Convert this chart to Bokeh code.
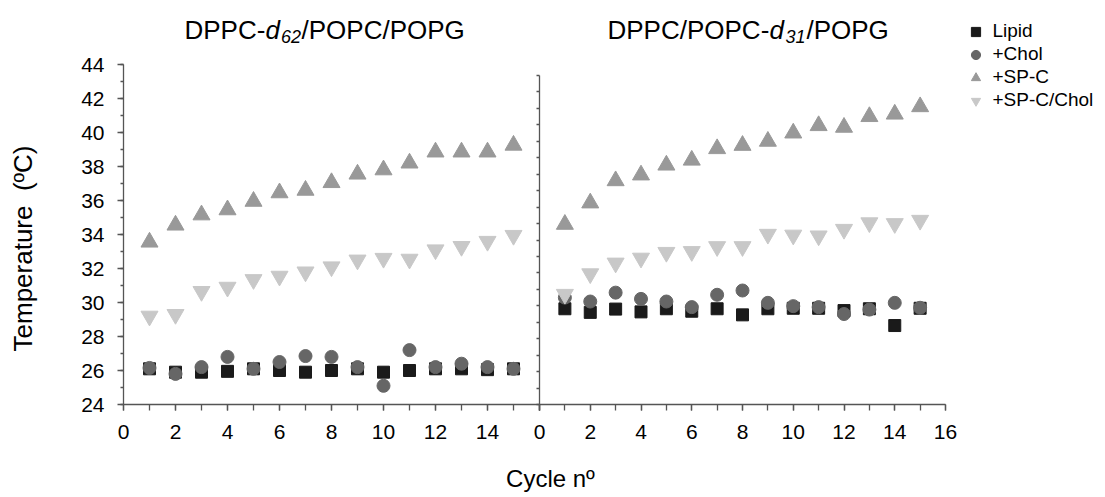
from bokeh.plotting import figure
from bokeh.models import (Range1d, LinearAxis, SingleIntervalTicker, FixedTicker, Label,
                          Legend, LegendItem, CustomJSTickFormatter)
from bokeh.embed import file_html
from bokeh.resources import INLINE

FONT = "Liberation Sans"

cycles = list(range(1, 16))

# Left panel: DPPC-d62/POPC/POPG
left_lipid = [26.1, 25.9, 25.9, 25.95, 26.1, 26.0, 25.9, 26.0, 26.1, 25.9, 26.0, 26.1, 26.1, 26.05, 26.1]
left_chol = [26.15, 25.8, 26.2, 26.8, 26.1, 26.5, 26.85, 26.8, 26.2, 25.1, 27.2, 26.2, 26.4, 26.2, 26.1]
left_spc = [33.55, 34.55, 35.15, 35.45, 35.95, 36.45, 36.6, 37.05, 37.55, 37.8, 38.2, 38.85, 38.85, 38.85, 39.25]
left_spc_chol = [29.2, 29.3, 30.65, 30.9, 31.35, 31.55, 31.8, 32.1, 32.5, 32.6, 32.55, 33.1, 33.3, 33.6, 33.95]

# Right panel: DPPC/POPC-d31/POPG
right_lipid = [29.82, 29.6, 29.8, 29.63, 29.82, 29.67, 29.82, 29.45, 29.82, 29.85, 29.85, 29.71, 29.82, 28.8, 29.85]
right_chol = [30.5, 30.26, 30.8, 30.42, 30.26, 29.92, 30.67, 30.93, 30.18, 29.98, 29.92, 29.5, 29.77, 30.18, 29.88]
right_spc = [34.95, 36.25, 37.6, 37.95, 38.55, 38.85, 39.55, 39.75, 40.0, 40.5, 40.95, 40.85, 41.5, 41.65, 42.1]
right_spc_chol = [30.7, 31.95, 32.6, 32.9, 33.25, 33.3, 33.6, 33.6, 34.35, 34.3, 34.25, 34.65, 35.05, 35.0, 35.2]

series_labels = ["Lipid", "+Chol", "+SP-C", "+SP-C/Chol"]
series_markers = ["square", "circle", "triangle", "inverted_triangle"]
series_colors = ["#1a1a1a", "#666666", "#999999", "#c8c8c8"]
series_sizes = [12, 13, 17, 17]

AXC = "#555555"
W, H = 1105, 497

# The frame fills the whole canvas; axes are pinned with fixed_location.
# Left panel scale: x 0 -> px 123, 26 px/unit ; y 24 -> px 404, 17 px/unit
# Right panel scale: x 0 -> px 539, 25.375 px/unit ; y 24 -> px 404, 16.45 px/unit
p = figure(width=W, height=H,
           x_range=Range1d(-123 / 26, (W - 123) / 26),
           y_range=Range1d(24 - (H - 404) / 17, 24 + 404 / 17),
           output_backend="svg", toolbar_location=None,
           x_axis_location=None, y_axis_location=None,
           min_border_left=0, min_border_right=0, min_border_top=0, min_border_bottom=0)
p.extra_x_ranges = {"xr": Range1d(-539 / 25.375, (W - 539) / 25.375)}
p.extra_y_ranges = {"yr": Range1d(24 - (H - 404) / 16.45, 24 + 404 / 16.45)}
p.grid.visible = False
p.outline_line_color = None
p.background_fill_color = "white"
p.border_fill_color = "white"


def style_axis(ax):
    ax.axis_line_color = AXC
    ax.axis_line_width = 1.3
    ax.major_tick_line_color = AXC
    ax.minor_tick_line_color = AXC
    ax.major_tick_line_width = 1.3
    ax.minor_tick_line_width = 1.3
    ax.major_label_text_font = FONT
    ax.major_label_text_font_size = "21px"
    ax.major_label_text_color = "#000000"
    ax.axis_label_text_font = FONT
    ax.axis_label_text_font_style = "normal"
    ax.axis_label_text_color = "#000000"


# left y axis (left panel)
yax = LinearAxis(fixed_location=0, bounds=(24, 44),
                 ticker=SingleIntervalTicker(interval=2, num_minor_ticks=2))
style_axis(yax)
yax.major_tick_out = 6
yax.major_tick_in = 0
yax.minor_tick_out = 3
yax.minor_tick_in = 0
yax.major_label_standoff = 13
p.add_layout(yax, "left")

# y axis title
ylab = LinearAxis(fixed_location=0, bounds=(22.36, 44), ticker=FixedTicker(ticks=[]),
                  axis_label="Temperature \u00a0(ºC)", axis_label_standoff=86)
style_axis(ylab)
ylab.axis_line_color = None
ylab.major_tick_out = 0
ylab.minor_tick_out = 0
ylab.axis_label_text_font_size = "26px"
p.add_layout(ylab, "left")

# divider: y axis of the right panel
div = LinearAxis(y_range_name="yr", fixed_location=16, bounds=(24, 44),
                 ticker=SingleIntervalTicker(interval=1, num_minor_ticks=0),
                 formatter=CustomJSTickFormatter(code="return ''"))
style_axis(div)
div.major_tick_out = 3
div.major_tick_in = 0
div.minor_tick_out = 0
div.minor_tick_in = 0
p.add_layout(div, "left")

# bottom axis of left panel
xl = LinearAxis(fixed_location=24, bounds=(0, 16),
                ticker=SingleIntervalTicker(interval=2, num_minor_ticks=2),
                major_label_overrides={16: ""})
style_axis(xl)
xl.major_tick_out = 6
xl.minor_tick_out = 6
xl.major_tick_in = 0
xl.minor_tick_in = 0
xl.major_label_standoff = 14
p.add_layout(xl, "below")

# bottom axis of right panel
xr = LinearAxis(x_range_name="xr", fixed_location=24, bounds=(0, 16),
                ticker=SingleIntervalTicker(interval=2, num_minor_ticks=2))
style_axis(xr)
xr.major_tick_out = 6
xr.minor_tick_out = 6
xr.major_tick_in = 0
xr.minor_tick_in = 0
xr.major_label_standoff = 14
p.add_layout(xr, "below")

# shared x axis title
xlab = LinearAxis(fixed_location=24, ticker=FixedTicker(ticks=[]), bounds=(1.3, 31.55),
                  axis_label="Cycle nº", axis_label_standoff=60)
style_axis(xlab)
xlab.axis_line_color = None
xlab.major_tick_out = 0
xlab.minor_tick_out = 0
xlab.axis_label_text_font_size = "24px"
p.add_layout(xlab, "below")

# glyphs
left_vals = [left_lipid, left_chol, left_spc, left_spc_chol]
right_vals = [right_lipid, right_chol, right_spc, right_spc_chol]
left_renderers = []
for vals, m, c, s in zip(left_vals, series_markers, series_colors, series_sizes):
    r = p.scatter(cycles, vals, marker=m, size=s, fill_color=c, line_color=c)
    left_renderers.append(r)
for vals, m, c, s in zip(right_vals, series_markers, series_colors, series_sizes):
    p.scatter(cycles, vals, marker=m, size=s, fill_color=c, line_color=c,
              x_range_name="xr", y_range_name="yr")

legend = Legend(items=[LegendItem(label=l, renderers=[r]) for l, r in zip(series_labels, left_renderers)],
                location=(963.5, 385.5), orientation="vertical",
                glyph_width=23, glyph_height=23, label_height=23, spacing=0,
                label_standoff=6, padding=0, margin=0,
                border_line_color=None, background_fill_alpha=0,
                label_text_font=FONT, label_text_font_size="19px", label_text_color="#000000")
p.add_layout(legend)


# panel titles (mixed styles)
def title_part(x, y, text, size, style="normal"):
    p.add_layout(Label(x=x, y=y, text=text, text_font=FONT, text_font_size=size,
                       text_font_style=style, text_align="left", text_baseline="alphabetic",
                       text_color="#000000"))


base_y = 46.03
sub_y = 45.62
title_part(2.346, base_y, "DPPC-", "26px")
title_part(5.458, base_y, "d", "26px", "italic")
title_part(6.054, sub_y, "62", "18px", "italic")
title_part(6.846, base_y, "/POPC/POPG", "26px")

title_part(18.615, base_y, "DPPC/POPC-", "26px")
title_part(24.846, base_y, "d", "26px", "italic")
title_part(25.462, sub_y, "31", "18px", "italic")
title_part(26.269, base_y, "/POPG", "26px")

open("out.html", "w").write(file_html(p, INLINE))
